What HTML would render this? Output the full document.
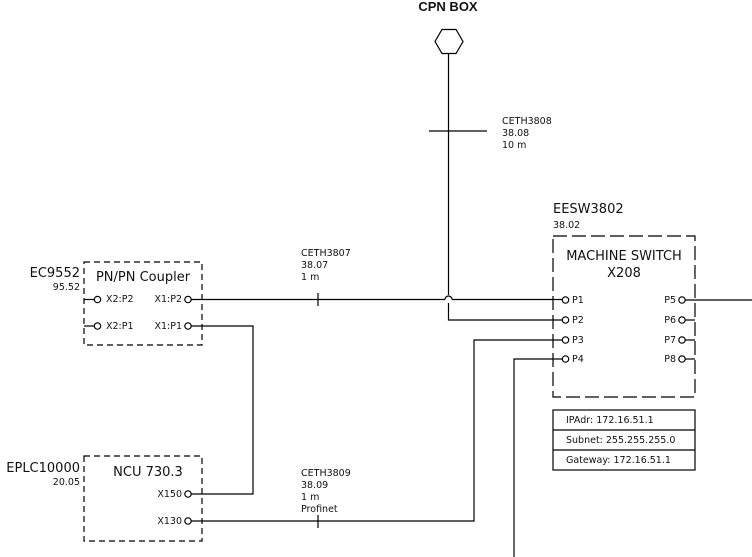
<!DOCTYPE html>
<html><head><meta charset="utf-8"><style>
body{margin:0;background:#fff}
svg{display:block}
text{font-family:"DejaVu Sans","Liberation Sans",sans-serif;fill:#111}
.s{font-size:9.5px}
.m{font-size:13px}
</style></head><body>
<svg width="752" height="557" viewBox="0 0 752 557" xmlns="http://www.w3.org/2000/svg">
<g stroke="#000" stroke-width="1.2" fill="none">
<polygon points="435,41.5 442,29.5 456,29.5 463,41.5 456,53.5 442,53.5"/>
<line x1="448.5" y1="53.5" x2="448.5" y2="295"/>
<path d="M448.5 303 L448.5 320 L562 320"/>
<path d="M445 299.5 A3.5 3.5 0 0 1 452 299.5"/>
<line x1="429" y1="131" x2="487" y2="131"/>
<rect x="84" y="262" width="118" height="83" stroke-dasharray="6,4"/>
<rect x="84" y="456" width="118" height="85" stroke-dasharray="6,4"/>
<rect x="553" y="236" width="142" height="161" stroke-dasharray="14,5"/>
<line x1="84" y1="299.5" x2="94" y2="299.5"/><circle cx="97.5" cy="299.5" r="3.2"/>
<line x1="84" y1="326" x2="94" y2="326"/><circle cx="97.5" cy="326" r="3.2"/>
<circle cx="188" cy="299.5" r="3.2"/><line x1="191" y1="299.5" x2="445" y2="299.5"/><line x1="452" y1="299.5" x2="562" y2="299.5"/>
<line x1="318" y1="293" x2="318" y2="306"/>
<circle cx="188" cy="326" r="3.2"/><path d="M191 326 L253 326 L253 494 L191 494"/>
<circle cx="188" cy="494" r="3.2"/>
<circle cx="188" cy="521" r="3.2"/><path d="M191 521 L474 521 L474 340 L562 340"/>
<line x1="318" y1="515" x2="318" y2="528"/>
<path d="M514 557 L514 359 L562 359"/>
<circle cx="565.5" cy="300" r="3.2"/><circle cx="565.5" cy="320" r="3.2"/><circle cx="565.5" cy="340" r="3.2"/><circle cx="565.5" cy="359" r="3.2"/>
<circle cx="682" cy="300" r="3.2"/><circle cx="682" cy="320" r="3.2"/><circle cx="682" cy="340" r="3.2"/><circle cx="682" cy="359" r="3.2"/>
<line x1="685" y1="300" x2="752" y2="300"/>
<line x1="685" y1="320" x2="695" y2="320"/><line x1="685" y1="340" x2="695" y2="340"/><line x1="685" y1="359" x2="695" y2="359"/>
<rect x="553" y="410" width="142" height="60"/>
<line x1="553" y1="430" x2="695" y2="430"/><line x1="553" y1="450" x2="695" y2="450"/>
</g>
<text x="448" y="11" font-size="13" font-weight="bold" text-anchor="middle" style="font-family:'Liberation Sans',sans-serif">CPN BOX</text>
<text class="s" x="502" y="124">CETH3808</text><text class="s" x="502" y="136">38.08</text><text class="s" x="502" y="148">10 m</text>
<text class="s" x="301" y="256">CETH3807</text><text class="s" x="301" y="268">38.07</text><text class="s" x="301" y="280">1 m</text>
<text class="s" x="301" y="476">CETH3809</text><text class="s" x="301" y="488">38.09</text><text class="s" x="301" y="500">1 m</text><text class="s" x="301" y="512">Profinet</text>
<text class="m" x="553" y="213">EESW3802</text><text class="s" x="553" y="228">38.02</text>
<text class="m" x="624" y="260" text-anchor="middle">MACHINE SWITCH</text>
<text class="m" x="624" y="277" text-anchor="middle">X208</text>
<text class="s" x="572" y="303">P1</text><text class="s" x="572" y="323">P2</text><text class="s" x="572" y="343">P3</text><text class="s" x="572" y="362">P4</text>
<text class="s" x="676" y="303" text-anchor="end">P5</text><text class="s" x="676" y="323" text-anchor="end">P6</text><text class="s" x="676" y="343" text-anchor="end">P7</text><text class="s" x="676" y="362" text-anchor="end">P8</text>
<text class="s" x="566" y="423">IPAdr: 172.16.51.1</text>
<text class="s" x="566" y="443">Subnet: 255.255.255.0</text>
<text class="s" x="566" y="463">Gateway: 172.16.51.1</text>
<text class="m" x="80" y="277" text-anchor="end">EC9552</text><text class="s" x="80" y="290" text-anchor="end">95.52</text>
<text class="m" x="143" y="281" text-anchor="middle">PN/PN Coupler</text>
<text class="s" x="106" y="302">X2:P2</text><text class="s" x="106" y="329">X2:P1</text>
<text class="s" x="182" y="302" text-anchor="end">X1:P2</text><text class="s" x="182" y="329" text-anchor="end">X1:P1</text>
<text class="m" x="80" y="472" text-anchor="end">EPLC10000</text><text class="s" x="80" y="485" text-anchor="end">20.05</text>
<text class="m" x="148" y="476" text-anchor="middle">NCU 730.3</text>
<text class="s" x="182" y="497" text-anchor="end">X150</text><text class="s" x="182" y="524" text-anchor="end">X130</text>
</svg>
</body></html>
